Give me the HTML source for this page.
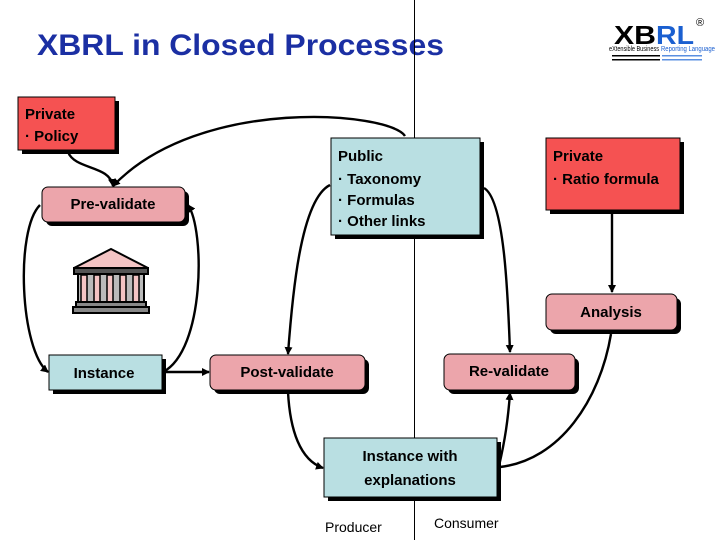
<!DOCTYPE html>
<html><head><meta charset="utf-8"><style>
html,body{margin:0;padding:0;background:#fff;}
svg{display:block;}
text{font-family:"Liberation Sans",sans-serif;}
.b{font-weight:bold;font-size:15px;fill:#000;}
</style></head><body>
<svg width="720" height="540" viewBox="0 0 720 540" xmlns="http://www.w3.org/2000/svg">
<defs>
<marker id="a" markerWidth="8" markerHeight="8" refX="7" refY="4" orient="auto" markerUnits="userSpaceOnUse"><path d="M0,0 L8,4 L0,8 Z" fill="#000"/></marker>
</defs>
<text x="37" y="55" font-size="30" font-weight="bold" fill="#1b2fa3" textLength="407" lengthAdjust="spacingAndGlyphs">XBRL in Closed Processes</text>
<!-- logo -->
<g>
<text x="614" y="44" font-size="26" font-weight="900" fill="#000" textLength="42" lengthAdjust="spacingAndGlyphs">XB</text>
<text x="656" y="44" font-size="26" font-weight="900" fill="#1a5fd0" textLength="38" lengthAdjust="spacingAndGlyphs">RL</text>
<text x="696" y="26" font-size="11" fill="#000">®</text>
<text x="609" y="51" font-size="7" fill="#000" textLength="50" lengthAdjust="spacingAndGlyphs">eXtensible Business</text>
<text x="661" y="51" font-size="7" fill="#1a5fd0" textLength="54" lengthAdjust="spacingAndGlyphs">Reporting Language</text>
<rect x="612" y="55" width="48" height="1.5" fill="#000"/><rect x="612" y="59" width="48" height="1.5" fill="#000"/>
<rect x="662" y="55" width="40" height="1.5" fill="#5a8fe0"/><rect x="662" y="59" width="40" height="1.5" fill="#5a8fe0"/>
</g>
<line x1="414.5" y1="0" x2="414.5" y2="540" stroke="#000" stroke-width="1"/>

<g stroke="#000" stroke-width="2.4" fill="none">
<path d="M68,152 C75,170 110,165 113,186" marker-end="url(#a)"/>
<path d="M405,136 C390,112 200,95 113,186" marker-end="url(#a)"/>
<path d="M40,205 C15,230 20,350 48,372" marker-end="url(#a)"/>
<path d="M163,372 C205,350 205,230 188,205" marker-end="url(#a)"/>
<path d="M163,372 L209,372" marker-end="url(#a)"/>
<path d="M330,185 C300,200 292,300 288,354" marker-end="url(#a)"/>
<path d="M288,392 C290,430 300,460 323,468" marker-end="url(#a)"/>
<path d="M484,188 C505,200 508,300 510,352" marker-end="url(#a)"/>
<path d="M499,466 C505,440 508,420 510,393" marker-end="url(#a)"/>
<path d="M500,467 C560,460 600,400 611,334"/>
<path d="M612,214 L612,292" marker-end="url(#a)"/>
</g>

<!-- boxes -->
<g>
<rect x="22" y="101" width="97" height="53" fill="#000"/>
<rect x="18" y="97" width="97" height="53" fill="#f55252" stroke="#000"/>
<text x="25" y="119" class="b">Private</text>
<text x="25" y="141" class="b">· Policy</text>

<rect x="46" y="191" width="143" height="35" rx="6" fill="#000"/>
<rect x="42" y="187" width="143" height="35" rx="6" fill="#eca5ab" stroke="#000"/>
<text x="113" y="209" class="b" text-anchor="middle">Pre-validate</text>

<rect x="53" y="359" width="113" height="35" fill="#000"/>
<rect x="49" y="355" width="113" height="35" fill="#b9dfe2" stroke="#000"/>
<text x="104" y="378" class="b" text-anchor="middle">Instance</text>

<rect x="214" y="359" width="155" height="35" rx="6" fill="#000"/>
<rect x="210" y="355" width="155" height="35" rx="6" fill="#eca5ab" stroke="#000"/>
<text x="287" y="377" class="b" text-anchor="middle">Post-validate</text>

<rect x="335" y="142" width="149" height="97" fill="#000"/>
<rect x="331" y="138" width="149" height="97" fill="#b9dfe2" stroke="#000"/>
<text x="338" y="161" class="b">Public</text>
<text x="338" y="184" class="b">· Taxonomy</text>
<text x="338" y="205" class="b">· Formulas</text>
<text x="338" y="226" class="b">· Other links</text>

<rect x="550" y="142" width="134" height="72" fill="#000"/>
<rect x="546" y="138" width="134" height="72" fill="#f55252" stroke="#000"/>
<text x="553" y="161" class="b">Private</text>
<text x="553" y="184" class="b">· Ratio formula</text>

<rect x="550" y="298" width="131" height="36" rx="6" fill="#000"/>
<rect x="546" y="294" width="131" height="36" rx="6" fill="#eca5ab" stroke="#000"/>
<text x="611" y="317" class="b" text-anchor="middle">Analysis</text>

<rect x="448" y="358" width="131" height="36" rx="6" fill="#000"/>
<rect x="444" y="354" width="131" height="36" rx="6" fill="#eca5ab" stroke="#000"/>
<text x="509" y="376" class="b" text-anchor="middle">Re-validate</text>

<rect x="328" y="442" width="173" height="59" fill="#000"/>
<rect x="324" y="438" width="173" height="59" fill="#b9dfe2" stroke="#000"/>
<text x="410" y="461" class="b" text-anchor="middle">Instance with</text>
<text x="410" y="485" class="b" text-anchor="middle">explanations</text>
</g>

<!-- temple -->
<g stroke="#000" stroke-width="2">
<path d="M74,268 L111,249 L148,268 Z" fill="#f4c4c4"/>
<rect x="74" y="268" width="74" height="6" fill="#555"/>
<rect x="78" y="274" width="66" height="28" fill="#bbb"/>
<g fill="#f4c4c4" stroke-width="1.5">
<rect x="81" y="275" width="6" height="27"/><rect x="94" y="275" width="6" height="27"/><rect x="107" y="275" width="6" height="27"/><rect x="120" y="275" width="6" height="27"/><rect x="133" y="275" width="6" height="27"/>
</g>
<rect x="76" y="302" width="70" height="5" fill="#888"/>
<rect x="73" y="307" width="76" height="6" fill="#888"/>
</g>

<text x="325" y="532" font-size="14">Producer</text>
<text x="434" y="528" font-size="14">Consumer</text>
</svg>
</body></html>
